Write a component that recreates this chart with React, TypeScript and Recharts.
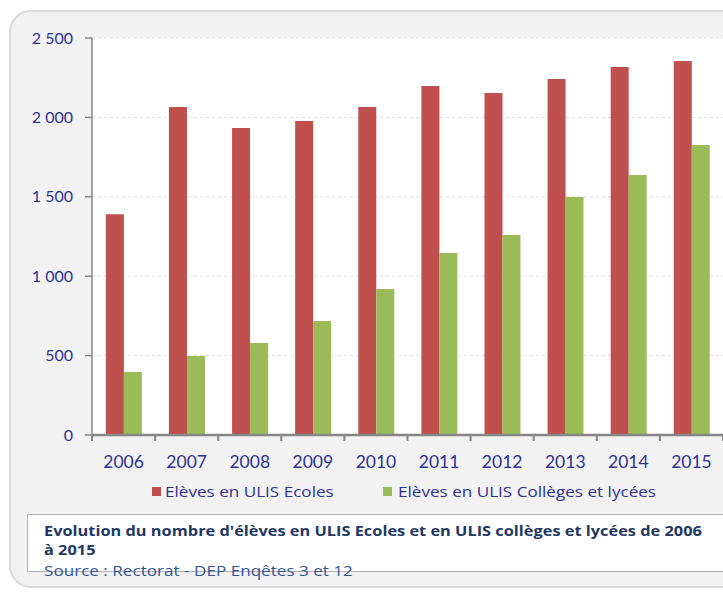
import React from "react";
import { BarChart, Bar, XAxis, YAxis, CartesianGrid } from "recharts";

const years = ["2006", "2007", "2008", "2009", "2010", "2011", "2012", "2013", "2014", "2015"];
const ecoles = [1390, 2065, 1933, 1977, 2065, 2198, 2154, 2242, 2317, 2355];
const colleges = [397, 497, 579, 718, 919, 1146, 1259, 1499, 1637, 1826];
const yTicks = [0, 500, 1000, 1500, 2000, 2500];
const seriesNames = ["Elèves en ULIS Ecoles", "Elèves en ULIS Collèges et lycées"];
const seriesColors = ["#c0504d", "#9bbb59"];
const captionTitle = "Evolution du nombre d'élèves en ULIS Ecoles et en ULIS collèges et lycées de 2006";
const captionTitle2 = "à 2015";
const captionSource = "Source : Rectorat - DEP Enqêtes 3 et 12";

const data = years.map((y, i) => ({ year: y, ecoles: ecoles[i], colleges: colleges[i] }));

const TEXT = "#2e3192";
const AXIS = "#868686";
const FONT = "Lato, 'Open Sans', sans-serif";
const FONT2 = "'Open Sans', Lato, sans-serif";

const fmt = (v: number) => {
  const s = String(v);
  return s.length > 3 ? s.slice(0, s.length - 3) + " " + s.slice(-3) : s;
};

const XTick = (props: any) => {
  const { x, y, payload, index } = props;
  const off = payload && payload.offset ? payload.offset : 31.5;
  return (
    <g>
      <line x1={x - off} x2={x - off} y1={y} y2={y + 6} stroke={AXIS} strokeWidth={2} />
      {index === years.length - 1 && (
        <line x1={x + off} x2={x + off} y1={y} y2={y + 6} stroke={AXIS} strokeWidth={2} />
      )}
      <text x={x} y={y + 33} textAnchor="middle" fill={TEXT} fontSize={17.5} fontFamily={FONT}>
        {payload.value}
      </text>
    </g>
  );
};

const stretch = (s: number): React.CSSProperties => ({
  transform: `scaleX(${s})`,
  transformOrigin: "left center",
});

export default function App() {
  return (
    <div
      style={{
        position: "absolute",
        left: 0,
        top: 0,
        width: 723,
        height: 592,
        overflow: "hidden",
        fontFamily: FONT,
        background: "#fff",
      }}
    >
      <div
        style={{
          position: "absolute",
          left: 9,
          top: 10,
          width: 740,
          height: 578,
          border: "2px solid #d9d9d9",
          borderRadius: 22,
          background: "#f2f2f2",
          boxSizing: "border-box",
        }}
      />
      <div style={{ position: "absolute", left: 0, top: 0 }}>
        <BarChart
          width={723}
          height={592}
          data={data}
          margin={{ top: 38, right: 0, bottom: 127, left: 0 }}
          barCategoryGap="22%"
          barGap={0}
        >
          <CartesianGrid
            vertical={false}
            fill="#ffffff"
            stroke="#dedede"
            strokeDasharray="3 3"
          />
          <YAxis
            width={92}
            domain={[0, 2500]}
            ticks={yTicks}
            tickFormatter={fmt}
            interval={0}
            tickSize={7}
            tickMargin={12}
            axisLine={{ stroke: AXIS, strokeWidth: 1.5 }}
            tickLine={{ stroke: AXIS, strokeWidth: 1.5 }}
            tick={{ fill: TEXT, fontSize: 16, fontFamily: FONT }}
          />
          <XAxis
            dataKey="year"
            height={30}
            interval={0}
            tickSize={0}
            tickMargin={0}
            tickLine={false}
            axisLine={{ stroke: AXIS, strokeWidth: 2.5 }}
            tick={<XTick />}
          />
          <Bar dataKey="ecoles" fill={seriesColors[0]} isAnimationActive={false} />
          <Bar dataKey="colleges" fill={seriesColors[1]} isAnimationActive={false} />
        </BarChart>
      </div>
      {/* legend */}
      <div style={{ position: "absolute", left: 152, top: 487, width: 9, height: 9, background: seriesColors[0] }} />
      <div style={{ position: "absolute", left: 165, top: 481, fontSize: 15, fontFamily: FONT2, color: TEXT, whiteSpace: "nowrap", lineHeight: "20px", ...stretch(1.14) }}>
        {seriesNames[0]}
      </div>
      <div style={{ position: "absolute", left: 383, top: 487, width: 9, height: 9, background: seriesColors[1] }} />
      <div style={{ position: "absolute", left: 398, top: 481, fontSize: 15, fontFamily: FONT2, color: TEXT, whiteSpace: "nowrap", lineHeight: "20px", ...stretch(1.14) }}>
        {seriesNames[1]}
      </div>
      {/* caption */}
      <div
        style={{
          position: "absolute",
          left: 27,
          top: 514,
          width: 720,
          height: 58,
          background: "#fff",
          border: "1px solid #b0b0b0",
          boxSizing: "border-box",
        }}
      />
      <div style={{ position: "absolute", left: 44, top: 521, fontSize: 15, fontWeight: 700, fontFamily: FONT2, color: "#1f3864", whiteSpace: "nowrap", lineHeight: "19px", ...stretch(1.09) }}>
        {captionTitle}
        <br />
        {captionTitle2}
      </div>
      <div style={{ position: "absolute", left: 44, top: 560, fontSize: 15, fontFamily: FONT2, color: "#2f5597", whiteSpace: "nowrap", lineHeight: "20px", ...stretch(1.14) }}>
        {captionSource}
      </div>
    </div>
  );
}
